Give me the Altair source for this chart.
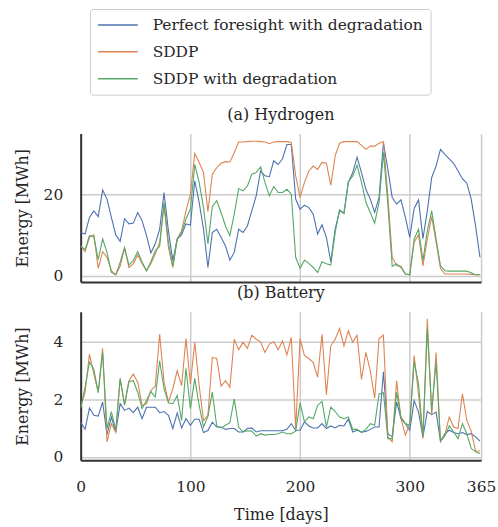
import altair as alt
import pandas as pd

# ---------------- data ----------------
days = list(range(0, 365, 4))  # 92 samples
series = ["Perfect foresight with degradation", "SDDP", "SDDP with degradation"]
colors = ["#4C72B0", "#DD8452", "#55A868"]

h_pf = [10.6, 10.2, 14.3, 15.9, 14.5, 21.0, 18.8, 14.3, 10.0, 8.4,
        14.0, 12.7, 12.9, 15.5, 13.5, 9.8, 5.6, 7.8, 11.4, 20.4,
        11.0, 3.7, 9.0, 10.0, 12.7, 12.4, 23.3, 18.0, 11.4, 2.0,
        10.6, 11.4, 9.4, 7.3, 3.8, 5.7, 11.4, 10.6, 12.2, 15.9,
        19.6, 25.7, 24.5, 24.3, 28.2, 27.3, 28.7,
        32.2, 32.2, 18.8, 16.3, 17.3, 16.7, 15.1, 10.2, 12.5, 9.4,
        3.4, 11.4, 15.9, 15.3, 22.9, 25.3, 29.1, 25.3, 21.2, 18.8,
        15.5, 19.2, 32.7, 26.1, 19.2, 17.6, 18.6, 14.3, 9.4, 16.5,
        18.6, 9.1, 15.9, 24.1, 26.9, 31.0, 29.8, 28.7, 27.6, 25.7,
        23.8, 22.7, 18.8, 12.2, 4.5]
h_sddp = [7.3, 5.9, 9.4, 10.0, 1.8, 5.9, 4.5, 1.2, 0.2, 2.3,
          6.7, 2.0, 2.9, 5.1, 2.9, 1.2, 2.9, 5.3, 8.2, 17.3,
          6.9, 2.0, 9.0, 11.0, 15.9, 20.0, 30.0, 27.8, 25.3, 15.7,
          24.9, 26.5, 27.6, 28.0, 27.9, 30.2, 32.8, 32.8, 32.9, 33.0,
          33.0, 32.9, 32.8, 32.4, 32.8, 32.9, 32.9,
          32.9, 32.7, 24.5, 19.2, 22.9, 25.7, 26.9, 26.1, 27.8, 27.6,
          22.2, 29.4, 32.5, 32.9, 32.9, 32.9, 32.9, 32.0, 31.0, 31.8,
          31.8, 32.5, 32.9, 19.6, 4.5, 2.4, 2.3, 0.4, 0.2, 8.2,
          10.0, 2.4, 9.0, 14.5, 8.2, 1.8, 0.4, 0.4, 0.4, 0.4,
          0.4, 0.4, 0.3, 0.2, 0.2]
h_sddp_deg = [7.3, 6.4, 9.8, 9.6, 3.9, 9.0, 5.7, 0.8, 0.2, 3.3,
              6.9, 2.6, 3.7, 5.9, 3.3, 1.2, 3.4, 6.1, 7.2, 18.0,
              8.2, 2.3, 9.0, 10.6, 13.9, 16.3, 27.3, 22.9, 16.7, 7.8,
              17.0, 18.4, 15.5, 12.2, 9.8, 15.1, 21.4, 20.8, 22.0, 24.9,
              25.3, 26.7, 22.9, 19.6, 21.9, 20.4, 20.4,
              21.2, 20.0, 4.5, 1.8, 3.8, 3.0, 2.0, 0.8, 3.4, 2.9,
              2.6, 10.6, 16.2, 15.3, 23.0, 24.5, 27.1, 22.9, 18.0, 15.5,
              12.9, 18.0, 30.2, 17.6, 2.3, 2.9, 2.0, 0.4, 0.2, 9.0,
              11.4, 3.7, 11.0, 15.9, 9.0, 2.4, 1.2, 1.1, 1.1, 1.1,
              1.1, 1.1, 0.7, 0.2, 0.2]

b_pf = [1.2, 0.95, 1.69, 1.44, 1.41, 1.9, 0.77, 1.38, 0.86, 1.84,
        1.61, 1.69, 1.53, 1.72, 1.32, 1.72, 1.72, 1.72, 1.53, 1.57,
        1.44, 0.98, 1.52, 1.0, 1.32, 1.09, 1.3, 1.3, 0.84, 0.91,
        1.2, 1.03, 1.03, 0.95, 0.98, 0.98, 0.86, 0.86, 0.98, 1.0,
        0.86, 0.9, 0.9, 0.9, 0.9, 0.9, 0.9,
        0.95, 1.15, 0.92, 0.92, 1.21, 1.07, 1.0, 1.0, 1.15, 0.98,
        1.07, 1.0, 1.09, 1.07, 1.3, 0.86, 0.92, 0.86, 0.88, 0.95,
        1.03, 1.03, 2.95, 0.8, 0.69, 1.9, 1.32, 1.15, 0.92, 1.95,
        1.55, 0.69, 1.57, 1.46, 1.55, 0.54, 0.8, 0.92, 0.84, 0.8,
        0.84, 0.77, 0.8, 0.69, 0.54]
b_sddp = [1.72, 2.24, 3.56, 2.87, 2.24, 3.76, 0.52, 1.15, 0.84, 2.7,
          1.84, 2.64, 2.87, 2.59, 1.78, 1.84, 2.3, 2.45, 4.25, 2.59,
          1.9, 2.36, 2.99, 2.47, 4.1, 2.53, 3.97, 2.47, 1.26, 1.44,
          3.45, 3.41, 2.45, 2.64, 2.41, 4.08, 3.71, 3.97, 3.76, 4.22,
          4.08, 3.99, 3.62, 3.91, 3.99, 3.71, 4.02,
          3.53, 4.14, 0.98, 4.1, 3.51, 3.41, 3.28, 2.76, 4.25, 2.15,
          3.85, 4.08, 4.45, 3.85, 4.37, 3.97, 4.22, 2.68, 3.62, 2.99,
          2.03, 4.1, 4.22, 0.69, 0.52, 2.64, 1.32, 0.75, 1.15, 3.51,
          2.15, 0.63, 4.79, 1.44, 3.62, 0.52, 0.77, 1.38, 1.03, 0.98,
          2.18, 1.26, 0.89, 0.2, 0.2]
b_sddp_deg = [1.69, 2.41, 3.28, 3.05, 2.22, 3.62, 0.98, 1.57, 0.92, 2.72,
              1.78, 2.61, 2.64, 2.24, 1.67, 1.95, 2.26, 2.07, 3.33, 2.36,
              1.87, 1.84, 2.13, 1.26, 3.07, 1.67, 2.72, 1.78, 1.03, 1.41,
              2.24, 1.07, 1.0, 1.09, 1.18, 2.01, 1.03, 0.86, 0.9, 0.89,
              0.72, 0.8, 0.75, 0.77, 0.77, 0.8, 0.86,
              0.8, 0.8, 0.89, 1.87, 1.21, 1.38, 1.32, 1.78, 1.92, 1.03,
              1.72, 1.57, 1.38, 1.32, 1.38, 0.95, 0.95, 0.84, 0.95, 1.15,
              1.09, 2.18, 2.22, 0.63, 0.63, 2.24, 1.38, 1.15, 1.09, 3.3,
              2.53, 0.69, 4.43, 1.61, 3.28, 0.54, 0.72, 1.07, 0.86, 0.63,
              1.15, 0.8, 0.29, 0.17, 0.11]

x_ticks = [0, 100, 200, 300, 365]
h_ticks = [0, 20]
b_ticks = [0, 2, 4]


def long_frame(values_by_series):
    rows = []
    for name, vals in zip(series, values_by_series):
        for d, v in zip(days, vals):
            rows.append({"day": d, "energy": v, "series": name})
    return pd.DataFrame(rows)


df_h = long_frame([h_pf, h_sddp, h_sddp_deg])
df_b = long_frame([b_pf, b_sddp, b_sddp_deg])

# ---------------- style ----------------
FONT = "DejaVu Serif"
TXT = "#262626"
GRID = "#cccccc"
SPINE = "#333333"
W, H = 402, 149

legend = alt.Legend(
    orient="none", legendX=9.3, legendY=-125, direction="vertical", title=None,
    symbolType="M-1,0H4", symbolSize=256, symbolStrokeWidth=1.5,
    labelOffset=38, padding=7, rowPadding=9, labelLimit=500,
    strokeColor="#cccccc", cornerRadius=3, fillColor="white",
    labelFont=FONT, labelFontSize=15.5, labelColor=TXT,
)
color = alt.Color("series:N", scale=alt.Scale(domain=series, range=colors),
                  sort=series, legend=legend)

x_scale = alt.Scale(domain=[0, 365], nice=False, zero=False)


def y_axis(vals):
    return alt.Axis(values=vals, title="Energy [MWh]", titleX=-58.7, titleY=H / 2,
                    titleAngle=-90, titleAlign="center", titleBaseline="middle",
                    labelPadding=18)


hyd = alt.Chart(df_h).mark_line(strokeWidth=1.1, clip=True).encode(
    x=alt.X("day:Q", scale=x_scale,
            axis=alt.Axis(values=x_ticks, labels=False, ticks=False, title=None)),
    y=alt.Y("energy:Q", scale=alt.Scale(domain=[-1.55, 34.9], nice=False, zero=False),
            axis=y_axis(h_ticks)),
    color=color,
).properties(width=W, height=H, title="(a) Hydrogen")

bat = alt.Chart(df_b).mark_line(strokeWidth=1.1, clip=True).encode(
    x=alt.X("day:Q", scale=x_scale,
            axis=alt.Axis(values=x_ticks, title="Time [days]", labelPadding=19,
                          labelFlush=False, titleY=55, titleBaseline="middle")),
    y=alt.Y("energy:Q", scale=alt.Scale(domain=[-0.12, 5.03], nice=False, zero=False),
            axis=y_axis(b_ticks)),
    color=color,
).properties(width=W, height=H, title="(b) Battery")

chart = alt.vconcat(hyd, bat, spacing=0).properties(
    padding={"left": 14, "top": 7, "right": 2, "bottom": 5},
    background="white",
).configure_view(stroke=None).configure_axis(
    labelFont=FONT, titleFont=FONT, labelFontSize=15.5, titleFontSize=16,
    labelColor=TXT, titleColor=TXT, titleFontWeight="normal",
    ticks=False, domainColor=SPINE, domainWidth=2,
    grid=True, gridColor=GRID, gridWidth=1.5,
).configure_title(
    font=FONT, fontSize=16, fontWeight="normal", color=TXT, offset=11, anchor="middle",
)

chart.save("out.html", embed_options={"renderer": "svg", "actions": False})
